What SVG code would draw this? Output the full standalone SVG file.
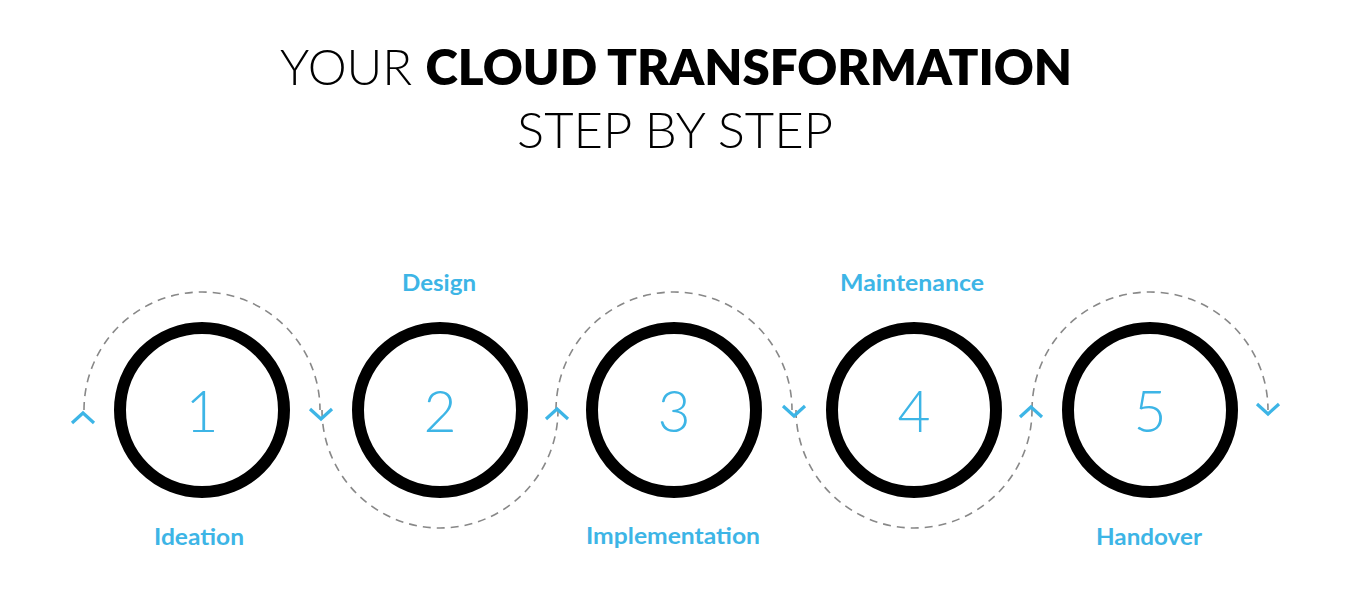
<svg xmlns="http://www.w3.org/2000/svg" width="1350" height="608" viewBox="0 0 1350 608">
<style>
.title{font-family:Lato,"Liberation Sans",sans-serif;font-size:50px;fill:#000;font-weight:300}
.b{font-weight:800}
.ring{fill:none;stroke:#000;stroke-width:12}
.num{font-family:Lato,"Liberation Sans",sans-serif;font-size:57px;font-weight:300;fill:#3db5e6;text-anchor:middle}
.lbl{font-family:Lato,"Liberation Sans",sans-serif;font-size:23px;font-weight:700;fill:#3db5e6;text-anchor:middle}
.arc{fill:none;stroke:#888;stroke-width:1.6;stroke-dasharray:8 6}
.chev{fill:none;stroke:#3db5e6;stroke-width:3.2;stroke-linecap:butt;stroke-linejoin:miter}
</style>
<rect width="1350" height="608" fill="#fff"/>
<g id="title">
<text class="title" x="280" y="85" textLength="792" lengthAdjust="spacingAndGlyphs">YOUR <tspan class="b">CLOUD TRANSFORMATION</tspan></text>
<text class="title" x="517" y="148" textLength="316" lengthAdjust="spacingAndGlyphs">STEP BY STEP</text>
</g>
<g id="connectors">
<path class="arc" d="M84 410 A118 118 0 0 1 320 410"/>
<path class="arc" d="M322 410 A118 118 0 0 0 558 410"/>
<path class="arc" d="M556 410 A118 118 0 0 1 792 410"/>
<path class="arc" d="M796 410 A118 118 0 0 0 1032 410"/>
<path class="arc" d="M1032 410 A118 118 0 0 1 1268 410"/>
<polyline class="chev" points="72,423 83,413 94,423"/>
<polyline class="chev" points="310,409 321,419 332,409"/>
<polyline class="chev" points="546,419 557,409 568,419"/>
<polyline class="chev" points="783,406 794,416 805,406"/>
<polyline class="chev" points="1020,417 1031,407 1042,417"/>
<polyline class="chev" points="1257,404 1268,414 1279,404"/>
</g>
<g id="step1">
<circle class="ring" cx="202" cy="410" r="82"/>
<text class="num" x="202" y="432">1</text>
<text class="lbl" x="199" y="545" textLength="90" lengthAdjust="spacingAndGlyphs">Ideation</text>
</g>
<g id="step2">
<circle class="ring" cx="440" cy="410" r="82"/>
<text class="num" x="440" y="432">2</text>
<text class="lbl" x="439" y="291" textLength="74" lengthAdjust="spacingAndGlyphs">Design</text>
</g>
<g id="step3">
<circle class="ring" cx="674" cy="410" r="82"/>
<text class="num" x="674" y="432">3</text>
<text class="lbl" x="673" y="544" textLength="174" lengthAdjust="spacingAndGlyphs">Implementation</text>
</g>
<g id="step4">
<circle class="ring" cx="914" cy="410" r="82"/>
<text class="num" x="914" y="432">4</text>
<text class="lbl" x="912" y="291" textLength="144" lengthAdjust="spacingAndGlyphs">Maintenance</text>
</g>
<g id="step5">
<circle class="ring" cx="1150" cy="410" r="82"/>
<text class="num" x="1150" y="432">5</text>
<text class="lbl" x="1149" y="545" textLength="106" lengthAdjust="spacingAndGlyphs">Handover</text>
</g>
</svg>
